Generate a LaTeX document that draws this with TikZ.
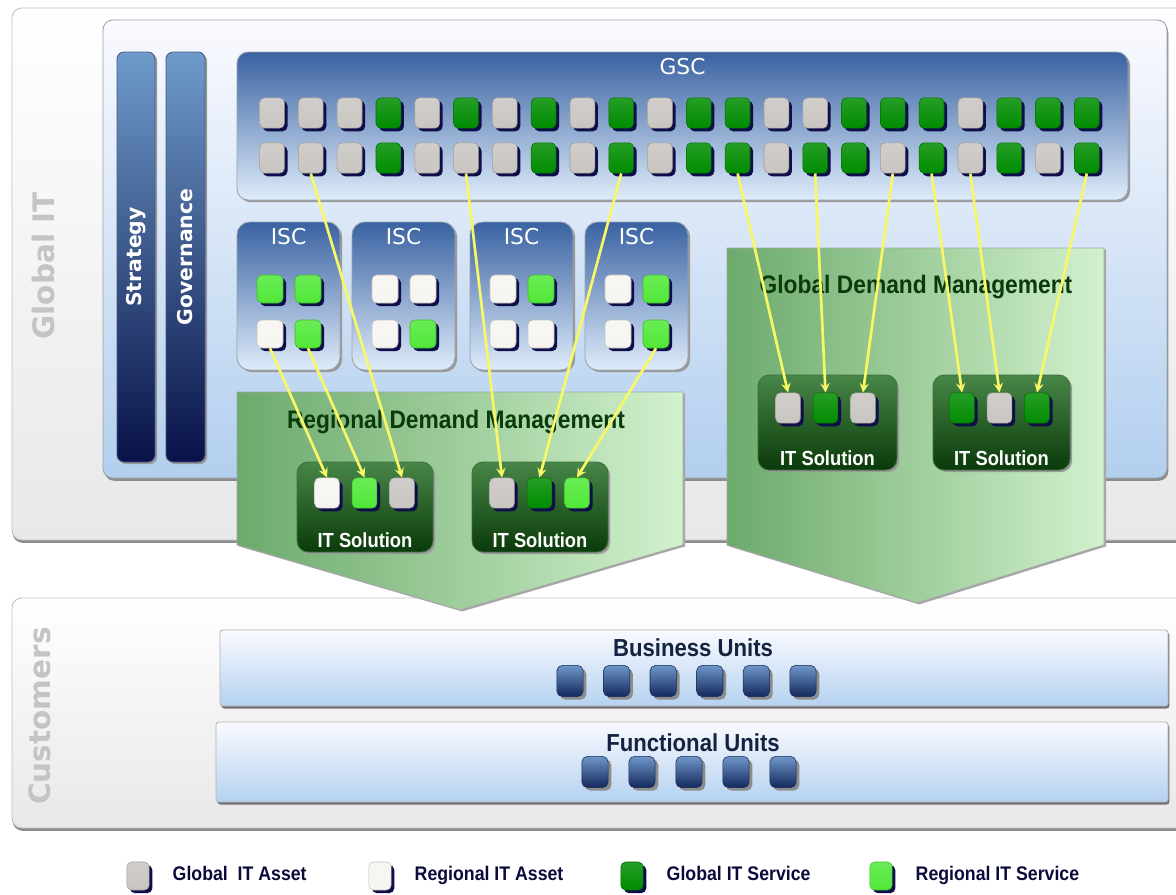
\documentclass[tikz,border=0pt]{standalone}
\usepackage{fontspec}
\setmainfont{Liberation Sans}
\newfontfamily\narrowfont[FakeStretch=0.9]{Liberation Sans}
\newfontfamily\wideface{DejaVu Sans}
\usepackage{tikz}
\usetikzlibrary{arrows,positioning,fit,shadows}

\definecolor{gasset}{HTML}{C9C5C1}
\definecolor{rasset}{HTML}{F7F5F1}
\definecolor{gserv}{HTML}{008C00}
\definecolor{rserv}{HTML}{50E838}
\definecolor{sqshadow}{HTML}{0E0E4A}
\definecolor{linkyellow}{HTML}{F8F866}
\definecolor{ghost}{HTML}{C4C4C4}
\definecolor{dmgreen}{HTML}{0B3A0B}
\definecolor{unittext}{HTML}{14233F}
\definecolor{boxedge}{HTML}{9AA2AC}

\begin{document}
\begin{tikzpicture}[x=0.025cm, y=-0.025cm,
    panel/.style={rectangle, inner sep=0pt, rounded corners=7pt, draw=boxedge, line width=0.6pt},
    outerpanel/.style={panel, draw=black!25, top color=white, bottom color=black!9,
        drop shadow={shadow xshift=0.5pt, shadow yshift=-2pt, opacity=1, fill=black!45}},
    bluepanel/.style={panel, top color=blue!2!white, bottom color={rgb,255:red,178;green,207;blue,238},
        drop shadow={shadow xshift=1pt, shadow yshift=-2pt, opacity=1, fill=black!45}},
    strip/.style={panel, rounded corners=5pt, draw={rgb,255:red,70;green,90;blue,130},
        top color={rgb,255:red,110;green,155;blue,202}, bottom color={rgb,255:red,8;green,18;blue,72},
        drop shadow={shadow xshift=1.5pt, shadow yshift=-1.5pt, opacity=1, fill=black!40}},
    gscbox/.style={panel, rounded corners=8pt,
        top color={rgb,255:red,58;green,98;blue,162}, bottom color={rgb,255:red,222;green,236;blue,250},
        drop shadow={shadow xshift=1.5pt, shadow yshift=-1.5pt, opacity=1, fill=black!40}},
    iscbox/.style={gscbox, rounded corners=9pt},
    dmshape/.style={draw=black!35, line width=0.6pt,
        left color={rgb,255:red,108;green,170;blue,108}, right color={rgb,255:red,210;green,241;blue,205},
        drop shadow={shadow xshift=1.5pt, shadow yshift=-1pt, opacity=1, fill=black!35}},
    solbox/.style={panel, rounded corners=8pt, draw={rgb,255:red,60;green,110;blue,60},
        top color={rgb,255:red,72;green,134;blue,72}, bottom color={rgb,255:red,10;green,58;blue,10},
        drop shadow={shadow xshift=1.5pt, shadow yshift=-1.5pt, opacity=1, fill=black!40}},
    unitbar/.style={panel, rounded corners=2pt, draw=black!30,
        top color=blue!2!white, bottom color={rgb,255:red,181;green,210;blue,240},
        drop shadow={shadow xshift=1pt, shadow yshift=-1.8pt, opacity=1, fill=black!55}},
    chip/.style={rectangle, rounded corners=3.5pt, inner sep=0pt, minimum width=0.62cm, minimum height=0.76cm,
        draw=#1!80!black, top color=#1!85!white, bottom color=#1,
        drop shadow={shadow xshift=2.2pt, shadow yshift=-2.2pt, opacity=1, fill=sqshadow}},
    isqchip/.style={chip=#1, minimum width=0.65cm, minimum height=0.7cm},
    keychip/.style={chip=#1, minimum width=0.56cm, minimum height=0.7cm, rounded corners=3.5pt},
    unitchip/.style={rectangle, rounded corners=4pt, inner sep=0pt, minimum width=0.66cm, minimum height=0.78cm,
        draw={rgb,255:red,20;green,40;blue,90}, top color={rgb,255:red,110;green,150;blue,200},
        bottom color={rgb,255:red,20;green,40;blue,92},
        drop shadow={shadow xshift=2.2pt, shadow yshift=-2.2pt, opacity=1, fill=black!45}},
    link/.style={draw=linkyellow, line width=1.9pt, -stealth},
    ghostlabel/.style={font=\wideface\bfseries\fontsize{21}{21}\selectfont, text=ghost, rotate=90},
    boxtitle/.style={font=\wideface\fontsize{15.5}{16}\selectfont, text=white},
    striplabel/.style={font=\wideface\bfseries\fontsize{14.5}{15}\selectfont, text=white, rotate=90},
    dmlabel/.style={font=\narrowfont\bfseries\fontsize{18}{18}\selectfont, text=dmgreen},
    sollabel/.style={font=\narrowfont\bfseries\fontsize{14.5}{15}\selectfont, text=white},
    unitlabel/.style={font=\narrowfont\bfseries\fontsize{17.5}{18}\selectfont, text=unittext},
    keylabel/.style={font=\narrowfont\bfseries\fontsize{14}{14}\selectfont, text=sqshadow!80!black,
        anchor=west, text height=1.6ex, text depth=0.4ex}]

    \useasboundingbox (0,0) rectangle (1176,894);
    \clip (0,0) rectangle (1176,894);
    \fill[white] (0,0) rectangle (1176,894);

    % Outer panels
    \node (globalit) [outerpanel, fit={(12,8) (1210,540)}] {};
    \node (customers) [outerpanel, fit={(12,598) (1210,828)}] {};
    \node (globalitlbl) [ghostlabel] at (43,266) {Global IT};
    \node (customerslbl) [ghostlabel] at (40,716) {Customers};

    % Global IT contents
    \node (core) [bluepanel, fit={(103,20) (1167,478)}] {};
    \node (strategy) [strip, fit={(117,52) (155,462)}] {};
    \node (governance) [strip, fit={(166,52) (205,462)}] {};
    \node (strategylbl) [striplabel] at (strategy.center) {Strategy};
    \node (governancelbl) [striplabel] at (governance.center) {Governance};

    % GSC
    \node (gsc) [gscbox, fit={(237,52) (1128,200)}] {};
    \node (gsclbl) [boxtitle, below=1pt of gsc.north] {GSC};
    \foreach \c [count=\i] in {gasset,gasset,gasset,gserv,gasset,gserv,gasset,gserv,gasset,gserv,gasset,gserv,
                               gserv,gasset,gasset,gserv,gserv,gserv,gasset,gserv,gserv,gserv}
        \node (gsca\i) [chip=\c] at ({272+38.8*(\i-1)},113) {};
    \foreach \c [count=\i] in {gasset,gasset,gasset,gserv,gasset,gasset,gasset,gserv,gasset,gserv,gasset,gserv,
                               gserv,gasset,gserv,gserv,gasset,gserv,gasset,gserv,gasset,gserv}
        \node (gscb\i) [chip=\c] at ({272+38.8*(\i-1)},158) {};

    % ISC
    \foreach \k/\x/\ca/\cb/\cc/\cd in {1/237/rserv/rserv/rasset/rserv, 2/352/rasset/rasset/rasset/rserv,
                                       3/470/rasset/rserv/rasset/rasset, 4/585/rasset/rserv/rasset/rserv} {
        \node (isc\k) [iscbox, fit={(\x,222) ({\x+103},370)}] {};
        \node (isclbl\k) [boxtitle, below=1pt of isc\k.north] {ISC};
        \node (isc\k-1) [isqchip=\ca] at ({\x+33},289) {};
        \node (isc\k-2) [isqchip=\cb] at ({\x+71},289) {};
        \node (isc\k-3) [isqchip=\cc] at ({\x+33},334) {};
        \node (isc\k-4) [isqchip=\cd] at ({\x+71},334) {};
    }

    % Demand management
    \draw[dmshape] (237,392) -- (683,392) -- (683,545) -- (460,610) -- (237,545) -- cycle;
    \draw[dmshape] (727,248) -- (1104,248) -- (1104,545) -- (917,603) -- (727,545) -- cycle;
    \node (regdm) [dmlabel] at (456,422) {Regional Demand Management};
    \node (globdm) [dmlabel] at (916,287) {Global Demand Management};

    % IT solutions
    \foreach \k/\xa/\ya/\xb/\yb in {1/297/462/433/552, 2/472/462/608/552, 3/758/375/897/470, 4/933/375/1070/470}
        \node (sol\k) [solbox, fit={(\xa,\ya) (\xb,\yb)}] {};
    \foreach \k/\x/\y/\ca/\cb/\cc in {1/327/493/rasset/rserv/gasset, 2/502/493/gasset/gserv/rserv,
                                      3/788/408/gasset/gserv/gasset, 4/962/408/gserv/gasset/gserv} {
        \node (sol\k-1) [chip=\ca] at (\x,\y) {};
        \node (sol\k-2) [chip=\cb] at ({\x+37.5},\y) {};
        \node (sol\k-3) [chip=\cc] at ({\x+75},\y) {};
        \node (sollbl\k) [sollabel, above=0pt of sol\k.south] {IT Solution};
    }

    % Links
    \foreach \a/\b in {isc1-3/sol1-1, isc1-4/sol1-2, gscb2/sol1-3, gscb6/sol2-1, gscb10/sol2-2, isc4-4/sol2-3,
                       gscb13/sol3-1, gscb15/sol3-2, gscb17/sol3-3, gscb18/sol4-1, gscb19/sol4-2, gscb22/sol4-3}
        \draw[link] (\a.south) -- (\b.north);

    % Customers
    \node (bu) [unitbar, fit={(220,630) (1168,706)}] {};
    \node (fu) [unitbar, fit={(216,722) (1168,802)}] {};
    \node (bulbl) [unitlabel] at (693,648) {Business Units};
    \node (fulbl) [unitlabel] at (693,743) {Functional Units};
    \foreach \i in {1,...,6}
        \node (bu\i) [unitchip] at ({570+46.6*(\i-1)},681) {};
    \foreach \i in {1,...,5}
        \node (fu\i) [unitchip] at ({595+47*(\i-1)},772) {};

    % Legend
    \foreach \c/\x/\t in {gasset/138/{Global~ IT Asset}, rasset/380/{Regional IT Asset},
                          gserv/632/{Global IT Service}, rserv/881/{Regional IT Service}} {
        \node (key\x) [keychip=\c] at (\x,876) {};
        \node (keylbl\x) [keylabel, right=13pt of key\x] {\t};
    }
\end{tikzpicture}
\end{document}
